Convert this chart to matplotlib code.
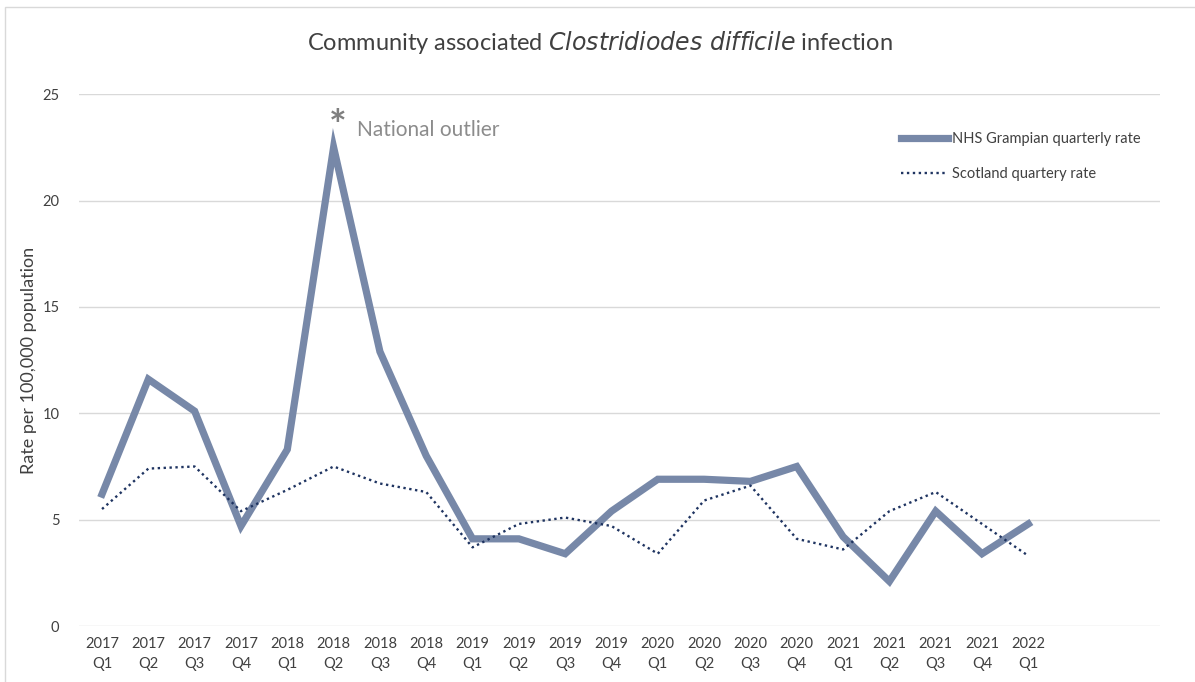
import matplotlib.pyplot as plt
import numpy as np

plt.rcParams['font.family'] = ['Lato', 'DejaVu Sans']

years = ['2017', '2017', '2017', '2017', '2018', '2018', '2018', '2018',
         '2019', '2019', '2019', '2019', '2020', '2020', '2020', '2020',
         '2021', '2021', '2021', '2021', '2022']
quarters = ['Q1', 'Q2', 'Q3', 'Q4', 'Q1', 'Q2', 'Q3', 'Q4',
            'Q1', 'Q2', 'Q3', 'Q4', 'Q1', 'Q2', 'Q3', 'Q4',
            'Q1', 'Q2', 'Q3', 'Q4', 'Q1']
grampian = [6.2, 11.6, 10.1, 4.7, 8.3, 22.5, 12.9, 8.0, 4.1, 4.1, 3.4,
            5.4, 6.9, 6.9, 6.8, 7.5, 4.2, 2.1, 5.4, 3.4, 4.8]
scotland = [5.5, 7.4, 7.5, 5.4, 6.4, 7.5, 6.7, 6.3, 3.7, 4.8, 5.1,
            4.7, 3.4, 5.9, 6.6, 4.1, 3.6, 5.4, 6.3, 4.8, 3.3]

labels = [y + '\n' + q for y, q in zip(years, quarters)]
x = np.arange(len(labels))

fig = plt.figure(figsize=(11.95, 6.82), dpi=100)
ax = fig.add_axes([0.066, 0.082, 0.905, 0.780])

ax.plot(x, grampian, color='#7788A8', lw=5.2, solid_joinstyle='miter',
        label='NHS Grampian quarterly rate', zorder=3)
ax.plot(x, scotland, color='#1F3461', lw=1.7, linestyle=(0, (1, 1.5)),
        label='Scotland quartery rate', zorder=4)

ax.set_xlim(-0.5, 22.85)
ax.set_ylim(0, 25)
ax.set_yticks([0, 5, 10, 15, 20, 25])
ax.set_xticks(x)
ax.set_xticklabels(labels, fontsize=10.5, color='#404040', linespacing=1.5)
ax.tick_params(axis='y', labelsize=10.5, labelcolor='#404040', length=0, pad=14)
ax.tick_params(axis='x', length=0, pad=8)
ax.grid(axis='y', color='#D9D9D9', lw=1)
ax.set_axisbelow(True)
for s in ax.spines.values():
    s.set_visible(False)

ax.set_ylabel('Rate per 100,000 population', fontsize=13, color='#404040', labelpad=4)

fig.text(0.502, 0.938, r'Community associated $\it{Clostridiodes\ difficile}$ infection',
         ha='center', va='center', fontsize=17, color='#404040')

ax.text(5.1, 23.4, '*', fontsize=30, color='#7F7F7F', fontweight='bold',
        ha='center', va='center')
ax.text(5.5, 23.3, 'National outlier', fontsize=15, color='#8C8C8C',
        ha='left', va='center')

leg = ax.legend(loc='upper left', bbox_to_anchor=(0.748, 0.953), frameon=False,
                fontsize=10.5, handlelength=3.2, labelspacing=1.45, handletextpad=0.3)
for t in leg.get_texts():
    t.set_color('#404040')

fig.patches.append(plt.Rectangle((0.004, -0.01), 1.0, 1.0, transform=fig.transFigure,
                                 fill=False, edgecolor='#D9D9D9', lw=1))

fig.savefig('out.png', dpi=100)
